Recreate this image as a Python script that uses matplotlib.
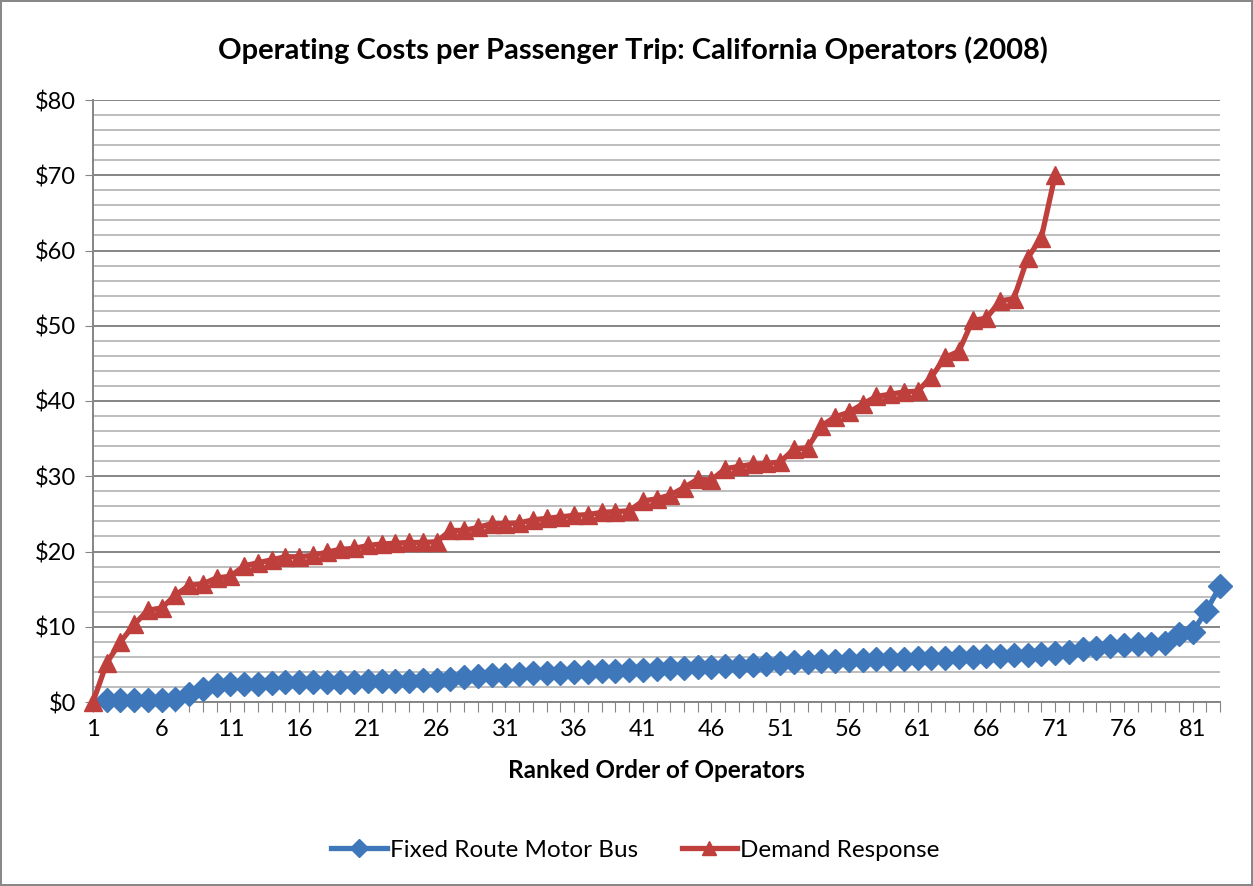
import numpy as np
import matplotlib
matplotlib.use("Agg")
from matplotlib import pyplot as plt
from matplotlib.ticker import MultipleLocator

# Operating cost per passenger trip, sorted
bus_costs = [0.2, 0.2, 0.2, 0.2, 0.25, 0.4, 1.0, 1.7, 2.2, 2.35,
             2.35, 2.4, 2.55, 2.6, 2.65, 2.65, 2.7, 2.7, 2.7, 2.75,
             2.8, 2.85, 2.85, 2.9, 2.9, 3.0, 3.3, 3.5, 3.6, 3.65,
             3.7, 3.8, 3.85, 3.9, 4.0, 4.05, 4.1, 4.15, 4.2, 4.3,
             4.4, 4.5, 4.55, 4.6, 4.65, 4.75, 4.85, 4.95, 5.05, 5.15,
             5.25, 5.35, 5.45, 5.5, 5.55, 5.6, 5.65, 5.7, 5.75, 5.8,
             5.85, 5.9, 5.95, 6.0, 6.05, 6.15, 6.25, 6.3, 6.4, 6.5,
             6.7, 7.0, 7.2, 7.45, 7.55, 7.65, 7.7, 7.8, 9.0, 9.3,
             12.1, 15.4]
bus_ranks = list(range(2, 2 + len(bus_costs)))

dr_costs = [0.0, 5.2, 8.0, 10.3, 12.2, 12.5, 14.2, 15.5, 15.7, 16.5,
            16.7, 18.1, 18.5, 18.9, 19.3, 19.3, 19.5, 19.9, 20.3, 20.4,
            20.8, 21.0, 21.1, 21.2, 21.2, 21.3, 22.8, 22.8, 23.2, 23.7,
            23.7, 23.8, 24.2, 24.4, 24.6, 24.8, 24.9, 25.2, 25.3, 25.4,
            26.7, 27.0, 27.5, 28.5, 29.6, 29.5, 31.0, 31.3, 31.6, 31.7,
            31.9, 33.6, 33.8, 36.7, 37.9, 38.5, 39.6, 40.6, 40.9, 41.2,
            41.3, 43.2, 45.8, 46.6, 50.7, 51.0, 53.3, 53.6, 59.0, 61.7,
            70.0]
dr_ranks = list(range(1, 1 + len(dr_costs)))

n_cats = 83
y_ticks = list(range(0, 90, 10))
y_labels = ["$%d" % v for v in y_ticks]

title = "Operating Costs per Passenger Trip: California Operators (2008)"
xlabel = "Ranked Order of Operators"

BLUE = "#3f77bb"
RED = "#be3f3c"
FONT = ["Lato", "DejaVu Sans"]
plt.rcParams['font.family'] = FONT

fig = plt.figure(figsize=(12.53, 8.86), dpi=100)
fig.patch.set_edgecolor("#888888")
fig.patch.set_linewidth(1.5)
ax = fig.add_axes([93/1253, 1 - 702/886, (1220-93)/1253, (702-100)/886])

ax.plot(bus_ranks, bus_costs, color=BLUE, lw=3.8, marker="D", ms=12.5,
        label="Fixed Route Motor Bus", zorder=3, clip_on=False)
ax.plot(dr_ranks, dr_costs, color=RED, lw=3.8, marker="^", ms=12.5,
        label="Demand Response", zorder=4, clip_on=False)

ax.set_xlim(1, n_cats)
ax.set_ylim(0, 80)

# grid: minor every $2, major every $10
ax.yaxis.set_major_locator(MultipleLocator(10))
ax.yaxis.set_minor_locator(MultipleLocator(2))
ax.grid(which="minor", axis="y", color="#bdbdbd", lw=1.4)
ax.grid(which="major", axis="y", color="#858585", lw=1.4)
ax.set_axisbelow(True)

ax.set_yticks(y_ticks)
ax.set_yticklabels(y_labels, fontsize=17)
ax.tick_params(axis="y", which="major", length=6, color="#858585", pad=6)
ax.tick_params(axis="y", which="minor", length=0)

xt = list(range(1, n_cats + 1))
ax.set_xticks(xt)
ax.set_xticklabels([str(v) if (v - 1) % 5 == 0 else "" for v in xt], fontsize=17)
ax.tick_params(axis="x", length=7, color="#858585", pad=5)

for s in ["top", "right"]:
    ax.spines[s].set_visible(False)
ax.spines["left"].set_color("#858585")
ax.spines["bottom"].set_color("#858585")
ax.spines["left"].set_linewidth(1.4)
ax.spines["bottom"].set_linewidth(1.4)

ax.set_xlabel(xlabel, fontsize=17.5, fontweight="bold", labelpad=14)
fig.text(0.505, 1 - 50/886, title, fontsize=21, fontweight="bold",
         ha="center", va="center")

fig.legend(loc="center", bbox_to_anchor=(0.507, 1 - 850/886), ncol=2,
           frameon=False, fontsize=17.5, handlelength=2.3, handletextpad=0.1,
           columnspacing=1.8, markerscale=0.75)

fig.savefig("out.png", dpi=100)
